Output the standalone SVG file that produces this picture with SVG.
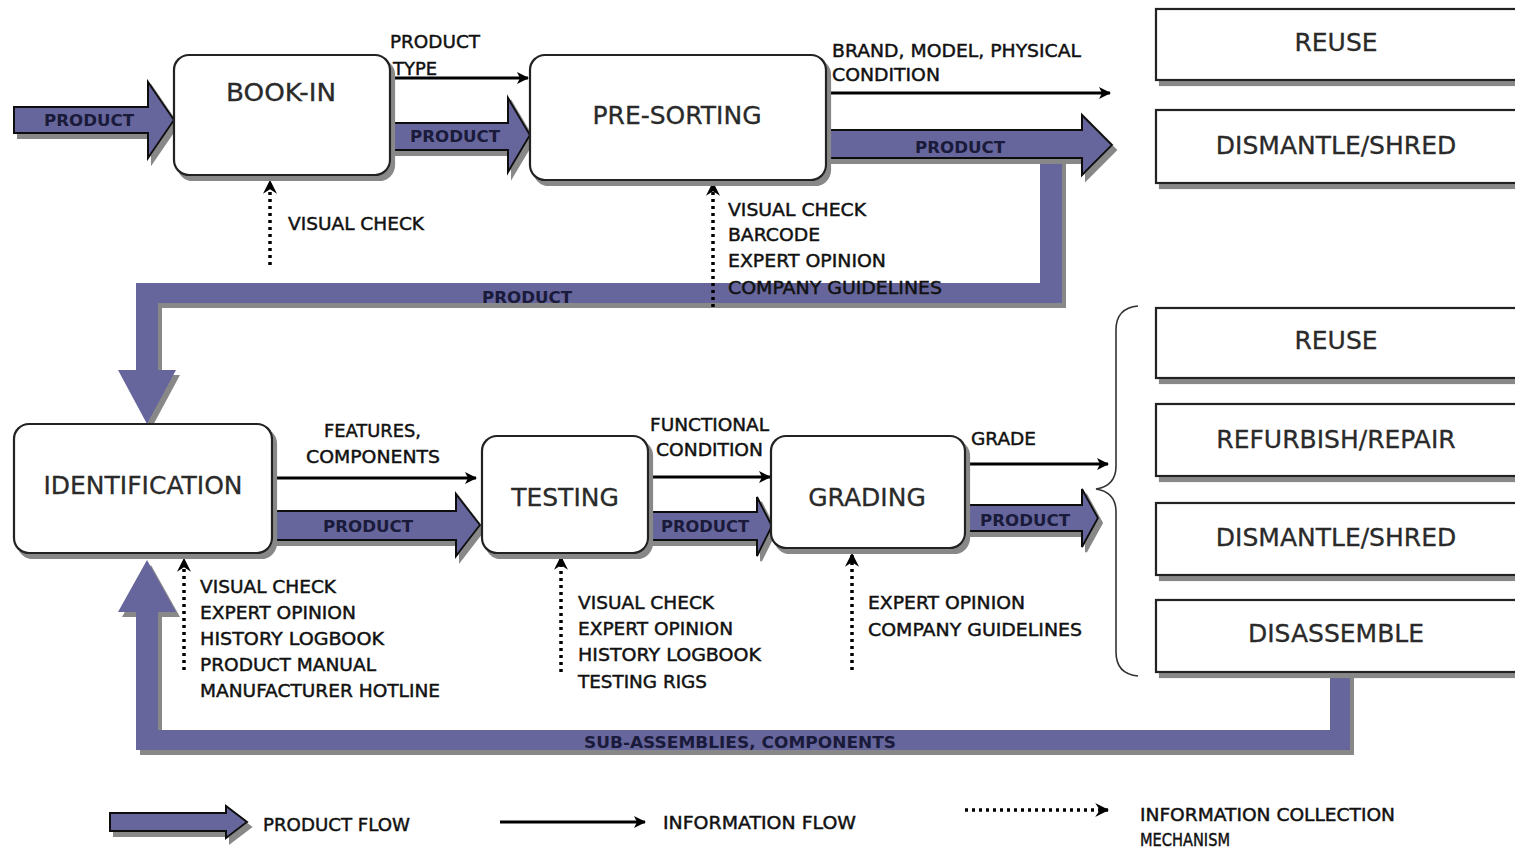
<svg xmlns="http://www.w3.org/2000/svg" width="1515" height="849" viewBox="0 0 1515 849">
<defs>
<style>
.node{fill:#fff;stroke:#222;stroke-width:2.2}
.title{font-family:"DejaVu Sans",sans-serif;font-size:25px;fill:#2a2a2a;text-anchor:middle;stroke:#2a2a2a;stroke-width:0.3}
.lbl{font-family:"DejaVu Sans",sans-serif;font-size:18px;fill:#111;stroke:#111;stroke-width:0.45}
.lblc{font-family:"DejaVu Sans",sans-serif;font-size:18px;fill:#111;stroke:#111;stroke-width:0.45;text-anchor:middle}
.pl{font-family:"DejaVu Sans",sans-serif;font-size:16px;font-weight:bold;fill:#1a1a3a;text-anchor:middle}
.wide{fill:#66669c;stroke:#111;stroke-width:2}
.loop{fill:#66669c}
.info{stroke:#000;stroke-width:3;fill:none}
.dot{stroke:#000;stroke-width:3.5;fill:none;stroke-dasharray:3 4}
</style>
<filter id="sh" x="-10%" y="-10%" width="130%" height="140%">
<feOffset in="SourceAlpha" dx="4" dy="5" result="o"/>
<feFlood flood-color="#888"/>
<feComposite in2="o" operator="in" result="s"/>
<feMerge><feMergeNode in="s"/><feMergeNode in="SourceGraphic"/></feMerge>
</filter>
<marker id="ah" viewBox="0 0 12 12" refX="11" refY="6" markerWidth="12" markerHeight="12" markerUnits="userSpaceOnUse" orient="auto">
<path d="M0,0 L12,6 L0,12 L3,6 Z" fill="#000"/>
</marker>
<marker id="dh" viewBox="0 0 12 12" refX="11" refY="6" markerWidth="14" markerHeight="14" markerUnits="userSpaceOnUse" orient="auto">
<path d="M0,0 L12,6 L0,12 L4,6 Z" fill="#000"/>
</marker>
</defs>
<rect width="1515" height="849" fill="#fff"/>

<g id="connectors">
<!-- big loops -->
<path class="loop" filter="url(#sh)" d="M1040,150 L1062,150 L1062,303 L158,303 L158,370 L176,370 L147,424 L118,370 L136,370 L136,283 L1040,283 Z"/>
<path class="loop" filter="url(#sh)" d="M1330,672 L1350,672 L1350,750 L136,750 L136,612 L118,612 L147,560 L176,612 L158,612 L158,730 L1330,730 Z"/>
<!-- product flow wide arrows -->
<path class="wide" filter="url(#sh)" d="M14,107 L148,107 L148,82 L174,120 L148,158 L148,133 L14,133 Z"/>
<path class="wide" filter="url(#sh)" d="M390,123 L508,123 L508,98 L530,135 L508,172 L508,150 L390,150 Z"/>
<path class="wide" filter="url(#sh)" d="M826,130 L1082,130 L1082,115 L1112,145 L1082,175 L1082,158 L826,158 Z"/>
<path class="wide" filter="url(#sh)" d="M272,511 L456,511 L456,494 L480,525 L456,556 L456,540 L272,540 Z"/>
<path class="wide" filter="url(#sh)" d="M648,512 L757,512 L757,497 L772,526 L757,556 L757,540 L648,540 Z"/>
<path class="wide" filter="url(#sh)" d="M965,505 L1082,505 L1082,489 L1098,518 L1082,547 L1082,531 L965,531 Z"/>
<text class="pl" x="89" y="126" textLength="90" lengthAdjust="spacingAndGlyphs">PRODUCT</text>
<text class="pl" x="455" y="142" textLength="90" lengthAdjust="spacingAndGlyphs">PRODUCT</text>
<text class="pl" x="960" y="153" textLength="90" lengthAdjust="spacingAndGlyphs">PRODUCT</text>
<text class="pl" x="527" y="303" textLength="90" lengthAdjust="spacingAndGlyphs">PRODUCT</text>
<text class="pl" x="368" y="532" textLength="90" lengthAdjust="spacingAndGlyphs">PRODUCT</text>
<text class="pl" x="705" y="532" textLength="88" lengthAdjust="spacingAndGlyphs">PRODUCT</text>
<text class="pl" x="1025" y="526" textLength="90" lengthAdjust="spacingAndGlyphs">PRODUCT</text>
<text class="pl" x="740" y="748" textLength="312" lengthAdjust="spacingAndGlyphs">SUB-ASSEMBLIES, COMPONENTS</text>
<!-- information flow -->
<line class="info" x1="390" y1="78" x2="528" y2="78" marker-end="url(#ah)"/>
<line class="info" x1="826" y1="93" x2="1110" y2="93" marker-end="url(#ah)"/>
<line class="info" x1="272" y1="478" x2="476" y2="478" marker-end="url(#ah)"/>
<line class="info" x1="648" y1="477" x2="770" y2="477" marker-end="url(#ah)"/>
<line class="info" x1="965" y1="464" x2="1108" y2="464" marker-end="url(#ah)"/>
<text class="lbl" x="390" y="48" textLength="90" lengthAdjust="spacingAndGlyphs">PRODUCT</text>
<text class="lbl" x="393" y="75" textLength="44" lengthAdjust="spacingAndGlyphs">TYPE</text>
<text class="lbl" x="832" y="57" textLength="249" lengthAdjust="spacingAndGlyphs">BRAND, MODEL, PHYSICAL</text>
<text class="lbl" x="832" y="81" textLength="108" lengthAdjust="spacingAndGlyphs">CONDITION</text>
<text class="lbl" x="324" y="437" textLength="97" lengthAdjust="spacingAndGlyphs">FEATURES,</text>
<text class="lbl" x="306" y="463" textLength="134" lengthAdjust="spacingAndGlyphs">COMPONENTS</text>
<text class="lbl" x="650" y="431" textLength="119" lengthAdjust="spacingAndGlyphs">FUNCTIONAL</text>
<text class="lbl" x="656" y="456" textLength="107" lengthAdjust="spacingAndGlyphs">CONDITION</text>
<text class="lbl" x="971" y="445" textLength="65" lengthAdjust="spacingAndGlyphs">GRADE</text>
<!-- information collection -->
<line class="dot" x1="270" y1="265" x2="270" y2="181" marker-end="url(#dh)"/>
<line class="dot" x1="713" y1="307" x2="713" y2="183" marker-end="url(#dh)"/>
<line class="dot" x1="184" y1="670" x2="184" y2="559" marker-end="url(#dh)"/>
<line class="dot" x1="561" y1="672" x2="561" y2="557" marker-end="url(#dh)"/>
<line class="dot" x1="852" y1="670" x2="852" y2="554" marker-end="url(#dh)"/>
<text class="lbl" x="288" y="230" textLength="136" lengthAdjust="spacingAndGlyphs">VISUAL CHECK</text>
<text class="lbl" x="728" y="216" textLength="138" lengthAdjust="spacingAndGlyphs">VISUAL CHECK</text>
<text class="lbl" x="728" y="241" textLength="92" lengthAdjust="spacingAndGlyphs">BARCODE</text>
<text class="lbl" x="728" y="267" textLength="158" lengthAdjust="spacingAndGlyphs">EXPERT OPINION</text>
<text class="lbl" x="728" y="294" textLength="214" lengthAdjust="spacingAndGlyphs">COMPANY GUIDELINES</text>
<text class="lbl" x="200" y="593" textLength="136" lengthAdjust="spacingAndGlyphs">VISUAL CHECK</text>
<text class="lbl" x="200" y="619" textLength="156" lengthAdjust="spacingAndGlyphs">EXPERT OPINION</text>
<text class="lbl" x="200" y="645" textLength="184" lengthAdjust="spacingAndGlyphs">HISTORY LOGBOOK</text>
<text class="lbl" x="200" y="671" textLength="176" lengthAdjust="spacingAndGlyphs">PRODUCT MANUAL</text>
<text class="lbl" x="200" y="697" textLength="240" lengthAdjust="spacingAndGlyphs">MANUFACTURER HOTLINE</text>
<text class="lbl" x="578" y="609" textLength="136" lengthAdjust="spacingAndGlyphs">VISUAL CHECK</text>
<text class="lbl" x="578" y="635" textLength="155" lengthAdjust="spacingAndGlyphs">EXPERT OPINION</text>
<text class="lbl" x="578" y="661" textLength="183" lengthAdjust="spacingAndGlyphs">HISTORY LOGBOOK</text>
<text class="lbl" x="578" y="688" textLength="129" lengthAdjust="spacingAndGlyphs">TESTING RIGS</text>
<text class="lbl" x="868" y="609" textLength="157" lengthAdjust="spacingAndGlyphs">EXPERT OPINION</text>
<text class="lbl" x="868" y="636" textLength="214" lengthAdjust="spacingAndGlyphs">COMPANY GUIDELINES</text>
<!-- brace -->
<path d="M1138,306 Q1116,308 1116,330 L1116,466 Q1116,486 1096,489 Q1116,492 1116,512 L1116,652 Q1116,674 1138,676" fill="none" stroke="#333" stroke-width="1.6"/>
</g>

<g id="book-in"><rect class="node" filter="url(#sh)" x="174" y="55" width="216" height="120" rx="15"/><text class="title" x="281" y="101" textLength="110" lengthAdjust="spacingAndGlyphs">BOOK-IN</text></g>
<g id="pre-sorting"><rect class="node" filter="url(#sh)" x="530" y="55" width="296" height="125" rx="15"/><text class="title" x="677" y="124">PRE-SORTING</text></g>
<g id="identification"><rect class="node" filter="url(#sh)" x="14" y="424" width="258" height="129" rx="15"/><text class="title" x="143" y="494">IDENTIFICATION</text></g>
<g id="testing"><rect class="node" filter="url(#sh)" x="482" y="436" width="166" height="117" rx="15"/><text class="title" x="565" y="506">TESTING</text></g>
<g id="grading"><rect class="node" filter="url(#sh)" x="771" y="436" width="194" height="112" rx="15"/><text class="title" x="867" y="506">GRADING</text></g>

<g id="reuse-1"><rect class="node" filter="url(#sh)" x="1156" y="9" width="364" height="71"/><text class="title" x="1336" y="51">REUSE</text></g>
<g id="dismantle-1"><rect class="node" filter="url(#sh)" x="1156" y="110" width="364" height="73"/><text class="title" x="1336" y="154">DISMANTLE/SHRED</text></g>
<g id="reuse-2"><rect class="node" filter="url(#sh)" x="1156" y="308" width="364" height="70"/><text class="title" x="1336" y="349">REUSE</text></g>
<g id="refurbish"><rect class="node" filter="url(#sh)" x="1156" y="404" width="364" height="72"/><text class="title" x="1336" y="448">REFURBISH/REPAIR</text></g>
<g id="dismantle-2"><rect class="node" filter="url(#sh)" x="1156" y="503" width="364" height="72"/><text class="title" x="1336" y="546">DISMANTLE/SHRED</text></g>
<g id="disassemble"><rect class="node" filter="url(#sh)" x="1156" y="600" width="364" height="72"/><text class="title" x="1336" y="642">DISASSEMBLE</text></g>

<g id="legend">
<path class="wide" filter="url(#sh)" d="M110,813 L226,813 L226,806 L247,822 L226,838 L226,831 L110,831 Z"/>
<text class="lbl" x="263" y="831" textLength="147" lengthAdjust="spacingAndGlyphs">PRODUCT FLOW</text>
<line class="info" x1="500" y1="822" x2="645" y2="822" marker-end="url(#ah)"/>
<text class="lbl" x="663" y="829" textLength="193" lengthAdjust="spacingAndGlyphs">INFORMATION FLOW</text>
<line class="dot" x1="965" y1="810" x2="1108" y2="810" marker-end="url(#dh)"/>
<text class="lbl" x="1140" y="821" textLength="255" lengthAdjust="spacingAndGlyphs">INFORMATION COLLECTION</text>
<text class="lbl" x="1140" y="846" textLength="90" lengthAdjust="spacingAndGlyphs">MECHANISM</text>
</g>
</svg>
